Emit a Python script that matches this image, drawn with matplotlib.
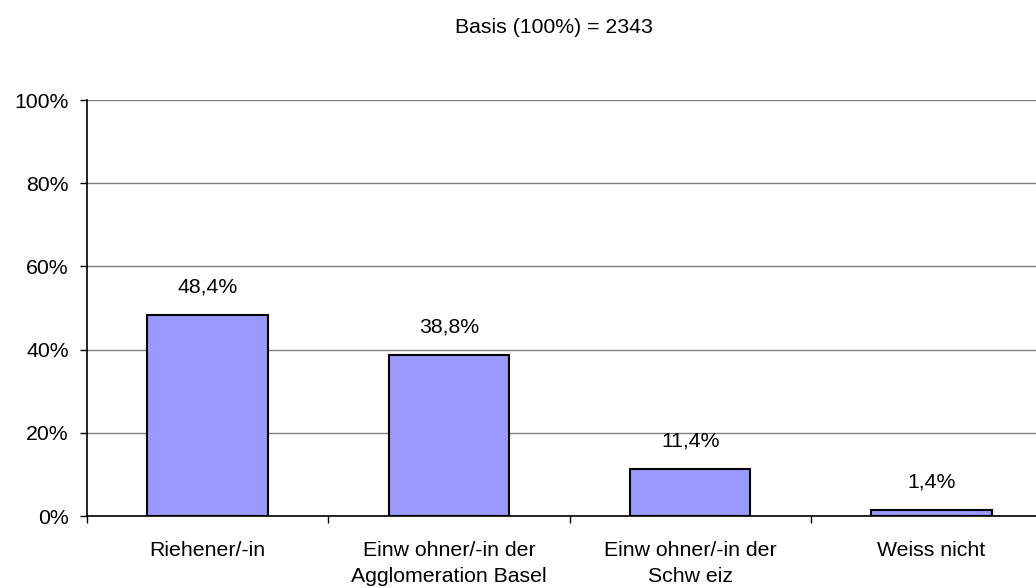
import matplotlib
matplotlib.use('Agg')
import matplotlib.pyplot as plt
import numpy as np

categories = ['Riehener/-in', 'Einw ohner/-in der\nAgglomeration Basel',
              'Einw ohner/-in der\nSchw eiz', 'Weiss nicht']
values = [48.4, 38.8, 11.4, 1.4]
value_labels = ['48,4%', '38,8%', '11,4%', '1,4%']
yticks = [0, 20, 40, 60, 80, 100]
ytick_labels = ['0%', '20%', '40%', '60%', '80%', '100%']

plt.rcParams['font.family'] = ['Liberation Sans', 'DejaVu Sans']
fs = 15.3

fig = plt.figure(figsize=(10.36, 5.88), dpi=100)
ax = fig.add_axes([0.084, 0.1224, 0.9315, 0.7075])

x = np.arange(len(categories))
ax.bar(x, values, width=0.5, color='#9999FF', edgecolor='black', linewidth=1.5, zorder=3)

for xi, v, lab in zip(x, values, value_labels):
    ax.annotate(lab, (xi, v), xytext=(0, 20), textcoords='offset points',
                ha='center', va='center', fontsize=fs)

ax.set_xlim(-0.5, len(categories) - 0.5)
ax.set_ylim(0, 100)
ax.set_yticks(yticks)
ax.set_yticklabels(ytick_labels, fontsize=fs)
ax.yaxis.grid(True, color='#808080', linewidth=1, zorder=0)

ax.set_xticks(x)
ax.set_xticklabels(categories, fontsize=fs, linespacing=1.45)
ax.set_xticks(np.arange(len(categories) + 1) - 0.5, minor=True)
ax.tick_params(axis='x', which='major', length=0, pad=18)
ax.tick_params(axis='x', which='minor', length=5, width=1)
ax.tick_params(axis='y', length=5, width=1, pad=8)

for s in ['top', 'right']:
    ax.spines[s].set_visible(False)
ax.spines['left'].set_linewidth(1.2)
ax.spines['bottom'].set_linewidth(1.2)

fig.text(0.535, 0.954, 'Basis (100%) = 2343', ha='center', va='center', fontsize=fs)

plt.savefig('out.png', dpi=100)
plt.close()
